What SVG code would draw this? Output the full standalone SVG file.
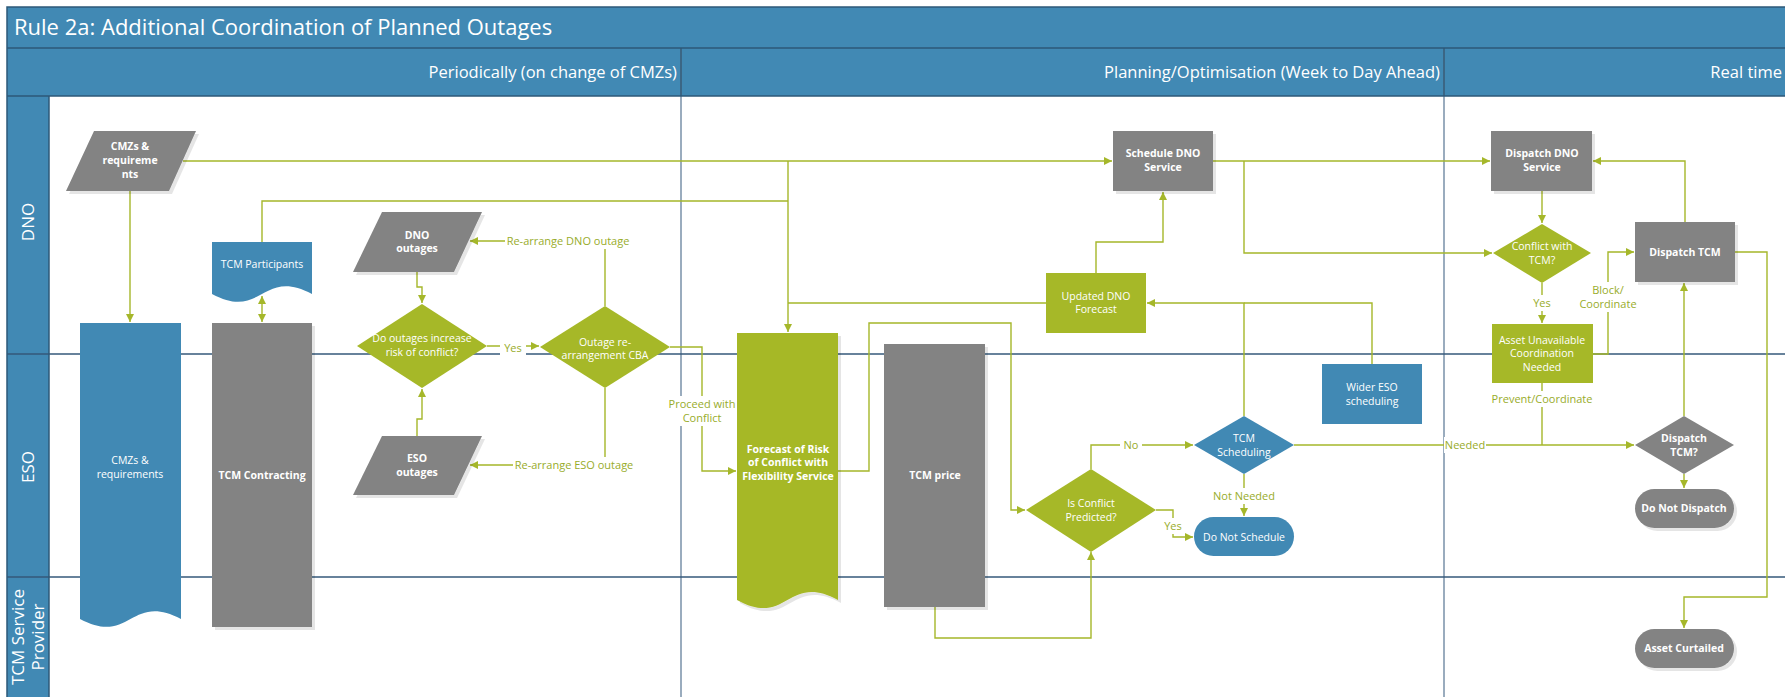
<svg xmlns="http://www.w3.org/2000/svg" width="1785" height="697" viewBox="0 0 1785 697">
<style>
.t{font-family:"Segoe UI","Open Sans",sans-serif}
.hdr{fill:#4189B4}
.frame{fill:none;stroke:#2C5878;stroke-width:1.5}
.div{stroke:#7890A8;stroke-width:1.5}
.lane{stroke:#34587A;stroke-width:1.5}
.title{font-size:22px;fill:#fff}
.phase{font-size:16.5px;fill:#fff;text-anchor:end}
.ll{font-size:17px;fill:#fff;text-anchor:middle}
.nt{font-size:10.5px;fill:#fff;text-anchor:middle}
.b{font-weight:bold}
.gray{fill:#838383}
.green{fill:#A6B828}
.blue{fill:#4189B4}
.c{fill:none;stroke:#A5B72A;stroke-width:1.4}
.ca{marker-end:url(#ah)}
.lbl{font-size:11px;fill:#98AC2A;text-anchor:middle}
.bg{fill:#fff}
.sh{filter:url(#sh)}
</style>
<defs>
<marker id="ah" markerUnits="userSpaceOnUse" markerWidth="9" markerHeight="9" refX="8" refY="4" orient="auto-start-reverse" viewBox="0 0 9 8">
<path d="M0,0 L8,4 L0,8 z" fill="#A5B72A"/>
</marker>
<filter id="sh" x="-10%" y="-10%" width="130%" height="130%">
<feDropShadow dx="3" dy="3" stdDeviation="0.6" flood-color="#000" flood-opacity="0.1"/>
</filter>
</defs>

<g id="background">
<rect x="0" y="0" width="1785" height="697" fill="#fff"/>
<rect x="7" y="7" width="1790" height="41" class="hdr"/>
<rect x="7" y="48" width="1790" height="48" class="hdr"/>
<rect x="7" y="96" width="42" height="610" class="hdr"/>
<line x1="681" y1="48" x2="681" y2="697" class="div"/>
<line x1="1444" y1="48" x2="1444" y2="697" class="div"/>
<line x1="7" y1="354" x2="1785" y2="354" class="lane"/>
<line x1="7" y1="577" x2="1785" y2="577" class="lane"/>
<line x1="681" y1="48" x2="681" y2="96" stroke="#2C5878" stroke-width="1.5"/>
<line x1="1444" y1="48" x2="1444" y2="96" stroke="#2C5878" stroke-width="1.5"/>
<line x1="7" y1="48" x2="1785" y2="48" stroke="#2C5878" stroke-width="1.5"/>
<line x1="7" y1="96" x2="1785" y2="96" stroke="#2C5878" stroke-width="1.5"/>
<line x1="49" y1="96" x2="49" y2="697" stroke="#2C5878" stroke-width="1.5"/>
<rect x="7" y="7" width="1790" height="700" class="frame"/>
<text x="14" y="35" class="t title">Rule 2a: Additional Coordination of Planned Outages</text>
<text x="677" y="78" class="t phase">Periodically (on change of CMZs)</text>
<text x="1440" y="78" class="t phase">Planning/Optimisation (Week to Day Ahead)</text>
<text x="1782" y="78" class="t phase">Real time</text>
<text transform="translate(34,222) rotate(-90)" class="t ll">DNO</text>
<text transform="translate(34,467) rotate(-90)" class="t ll">ESO</text>
<text transform="translate(24,637) rotate(-90)" class="t ll">TCM Service</text>
<text transform="translate(44,637) rotate(-90)" class="t ll">Provider</text>
</g>

<g id="connectors">
<path class="c ca" d="M183,161 H1112"/>
<path class="c ca" d="M130,191 V322"/>
<path class="c ca" d="M788,161 V332"/>
<path class="c" d="M262,242 V201 H788"/>
<path class="c" d="M1046,303 H788"/>
<path class="c ca" d="M262,296 V322" marker-start="url(#ah)"/>
<path class="c ca" d="M417,272 V287 H422 V303"/>
<path class="c ca" d="M417,436 V419 H422 V389"/>
<path class="c ca" d="M487,346 H539"/>
<path class="c ca" d="M605,306 V241 H470"/>
<path class="c ca" d="M605,388 V465 H470"/>
<path class="c ca" d="M670,347 H702 V471 H736"/>
<path class="c ca" d="M838,471 H869 V323 H1011 V510 H1025"/>
<path class="c ca" d="M935,607 V638 H1091 V552"/>
<path class="c ca" d="M1091,469 V445 H1193"/>
<path class="c ca" d="M1156,510 H1173 V537 H1193"/>
<path class="c ca" d="M1244,474 V516"/>
<path class="c ca" d="M1244,416 V303 H1147"/>
<path class="c" d="M1372,364 V303 H1244"/>
<path class="c ca" d="M1096,273 V242 H1163 V192"/>
<path class="c ca" d="M1213,161 H1490"/>
<path class="c ca" d="M1244,161 V253 H1492"/>
<path class="c ca" d="M1542,191 V223"/>
<path class="c ca" d="M1542,283 V323"/>
<path class="c ca" d="M1593,354 H1608 V252 H1634"/>
<path class="c ca" d="M1685,222 V161 H1593"/>
<path class="c ca" d="M1735,252 H1767 V597 H1684 V628"/>
<path class="c ca" d="M1684,416 V283"/>
<path class="c ca" d="M1684,474 V488"/>
<path class="c ca" d="M1294,445 H1634"/>
<path class="c" d="M1542,383 V445"/>
<rect x="505" y="233" width="127" height="16" class="bg"/>
<text x="568" y="245" class="t lbl">Re-arrange DNO outage</text>
<rect x="513" y="457" width="122" height="16" class="bg"/>
<text x="574" y="469" class="t lbl">Re-arrange ESO outage</text>
<rect x="500" y="340" width="26" height="15" class="bg"/>
<text x="513" y="352" class="t lbl">Yes</text>
<rect x="672" y="396" width="62" height="30" class="bg"/>
<text x="702" y="408" class="t lbl">Proceed with</text>
<text x="702" y="422" class="t lbl">Conflict</text>
<rect x="1120" y="437" width="22" height="15" class="bg"/>
<text x="1131" y="449" class="t lbl">No</text>
<rect x="1161" y="518" width="24" height="16" class="bg"/>
<text x="1173" y="530" class="t lbl">Yes</text>
<rect x="1214" y="488" width="60" height="16" class="bg"/>
<text x="1244" y="500" class="t lbl">Not Needed</text>
<rect x="1444" y="437" width="42" height="16" class="bg"/>
<text x="1465" y="449" class="t lbl">Needed</text>
<rect x="1530" y="295" width="24" height="16" class="bg"/>
<text x="1542" y="307" class="t lbl">Yes</text>
<rect x="1580" y="282" width="58" height="30" class="bg"/>
<text x="1608" y="294" class="t lbl">Block/</text>
<text x="1608" y="308" class="t lbl">Coordinate</text>
<rect x="1492" y="391" width="100" height="16" class="bg"/>
<text x="1542" y="403" class="t lbl">Prevent/Coordinate</text>
</g>

<g id="n-cmzs-dno">
<polygon points="94,131 196,131 169,191 66,191" class="gray sh"/>
<text x="130" y="150" class="t nt b">CMZs &amp;</text>
<text x="130" y="164" class="t nt b">requireme</text>
<text x="130" y="178" class="t nt b">nts</text>
</g>
<g id="n-cmzs-doc">
<path d="M80,323 H181 V619 C130.5,592 130.5,646 80,619 Z" class="blue"/>
<text x="130" y="464" class="t nt">CMZs &amp;</text>
<text x="130" y="478" class="t nt">requirements</text>
</g>
<g id="n-tcm-participants">
<path d="M212,242 H312 V294 C262,267 262,321 212,294 Z" class="blue"/>
<text x="262" y="268" class="t nt">TCM Participants</text>
</g>
<g id="n-tcm-contracting">
<rect x="212" y="323" width="100" height="304" class="gray sh"/>
<text x="262" y="479" class="t nt b">TCM Contracting</text>
</g>
<g id="n-dno-outages">
<polygon points="382,212 482,212 454,272 353,272" class="gray sh"/>
<text x="417" y="239" class="t nt b">DNO</text>
<text x="417" y="252" class="t nt b">outages</text>
</g>
<g id="n-eso-outages">
<polygon points="382,436 482,436 454,495 353,495" class="gray sh"/>
<text x="417" y="462" class="t nt b">ESO</text>
<text x="417" y="476" class="t nt b">outages</text>
</g>
<g id="n-increase-risk">
<polygon points="422,304 487,346 422,388 357,346" class="green"/>
<text x="422" y="342" class="t nt">Do outages increase</text>
<text x="422" y="356" class="t nt">risk of conflict?</text>
</g>
<g id="n-cba">
<polygon points="605,306 670,347 605,388 540,347" class="green"/>
<text x="605" y="346" class="t nt">Outage re-</text>
<text x="605" y="359" class="t nt">arrangement CBA</text>
</g>
<g id="n-forecast">
<path d="M737,333 H838 V600 C787.5,572 787.5,628 737,600 Z" class="green sh"/>
<text x="788" y="453" class="t nt b">Forecast of Risk</text>
<text x="788" y="466" class="t nt b">of Conflict with</text>
<text x="788" y="480" class="t nt b">Flexibility Service</text>
</g>
<g id="n-tcm-price">
<rect x="884" y="344" width="101" height="263" class="gray sh"/>
<text x="935" y="479" class="t nt b">TCM price</text>
</g>
<g id="n-updated-forecast">
<rect x="1046" y="273" width="100" height="60" class="green"/>
<text x="1096" y="300" class="t nt">Updated DNO</text>
<text x="1096" y="313" class="t nt">Forecast</text>
</g>
<g id="n-schedule-dno">
<rect x="1113" y="131" width="100" height="60" class="gray sh"/>
<text x="1163" y="157" class="t nt b">Schedule DNO</text>
<text x="1163" y="171" class="t nt b">Service</text>
</g>
<g id="n-is-conflict">
<polygon points="1091,469 1156,510 1091,552 1026,510" class="green"/>
<text x="1091" y="507" class="t nt">Is Conflict</text>
<text x="1091" y="521" class="t nt">Predicted?</text>
</g>
<g id="n-tcm-scheduling">
<polygon points="1244,416 1294,445 1244,474 1194,445" class="blue"/>
<text x="1244" y="442" class="t nt">TCM</text>
<text x="1244" y="456" class="t nt">Scheduling</text>
</g>
<g id="n-do-not-schedule">
<rect x="1194" y="517" width="100" height="39" rx="19.5" class="blue"/>
<text x="1244" y="541" class="t nt">Do Not Schedule</text>
</g>
<g id="n-wider-eso">
<rect x="1322" y="364" width="100" height="60" class="blue"/>
<text x="1372" y="391" class="t nt">Wider ESO</text>
<text x="1372" y="405" class="t nt">scheduling</text>
</g>
<g id="n-dispatch-dno">
<rect x="1491" y="131" width="101" height="60" class="gray sh"/>
<text x="1542" y="157" class="t nt b">Dispatch DNO</text>
<text x="1542" y="171" class="t nt b">Service</text>
</g>
<g id="n-conflict-tcm">
<polygon points="1542,224 1591,253 1542,283 1493,253" class="green"/>
<text x="1542" y="250" class="t nt">Conflict with</text>
<text x="1542" y="264" class="t nt">TCM?</text>
</g>
<g id="n-asset-unavailable">
<rect x="1492" y="324" width="101" height="59" class="green"/>
<text x="1542" y="344" class="t nt">Asset Unavailable</text>
<text x="1542" y="357" class="t nt">Coordination</text>
<text x="1542" y="371" class="t nt">Needed</text>
</g>
<g id="n-dispatch-tcm">
<rect x="1635" y="222" width="100" height="60" class="gray sh"/>
<text x="1685" y="256" class="t nt b">Dispatch TCM</text>
</g>
<g id="n-dispatch-tcm-q">
<polygon points="1684,416 1734,445 1684,474 1635,445" class="gray"/>
<text x="1684" y="442" class="t nt b">Dispatch</text>
<text x="1684" y="456" class="t nt b">TCM?</text>
</g>
<g id="n-do-not-dispatch">
<rect x="1635" y="489" width="99" height="39" rx="19.5" class="gray sh"/>
<text x="1684" y="512" class="t nt b">Do Not Dispatch</text>
</g>
<g id="n-asset-curtailed">
<rect x="1635" y="629" width="99" height="39" rx="19.5" class="gray sh"/>
<text x="1684" y="652" class="t nt b">Asset Curtailed</text>
</g>
</svg>
